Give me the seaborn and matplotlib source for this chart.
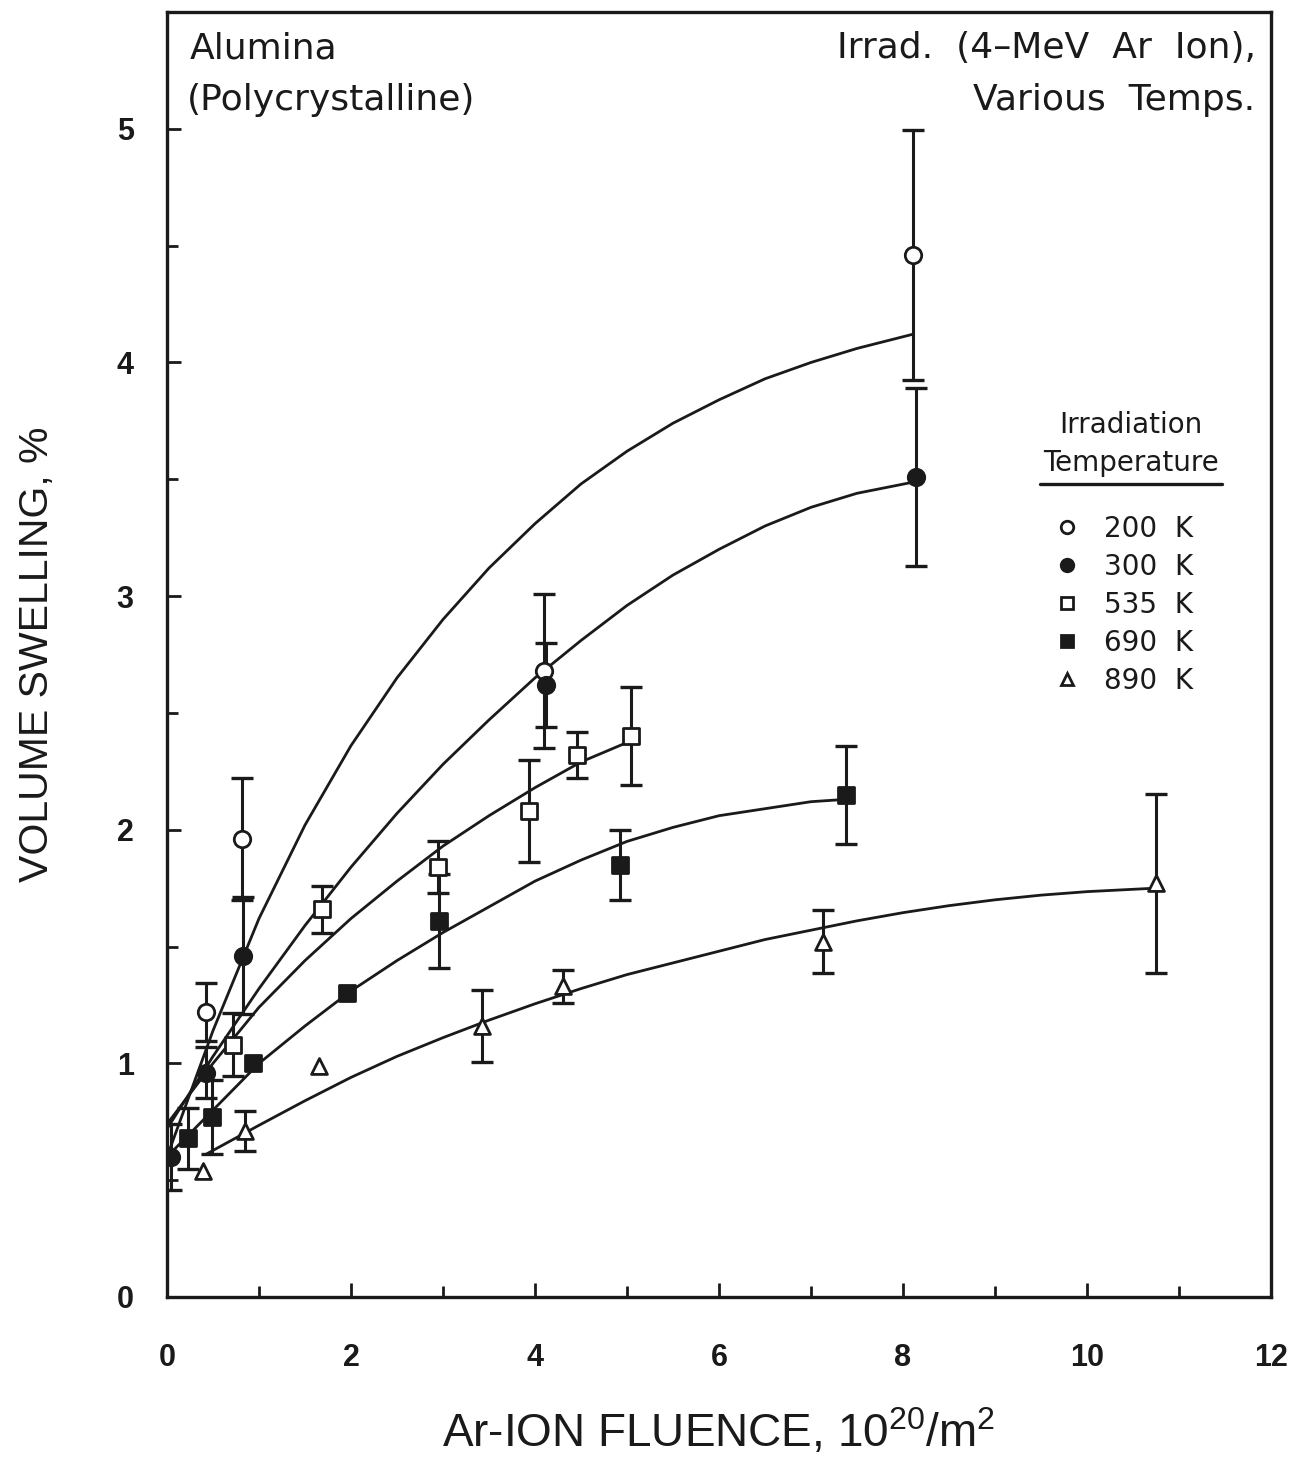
import matplotlib
matplotlib.use("Agg")
import matplotlib.pyplot as plt
import seaborn as sns
import numpy as np
import pandas as pd
from matplotlib.lines import Line2D

# ---------------- data ----------------
x200 = [0.42, 0.81, 4.10, 8.11]
y200 = [1.22, 1.96, 2.68, 4.46]
e200 = [0.125, 0.26, 0.33, 0.535]

x300 = [0.04, 0.42, 0.83, 4.12, 8.14]
y300 = [0.60, 0.96, 1.46, 2.62, 3.51]
e300 = [0.14, 0.11, 0.25, 0.18, 0.38]

x535 = [0.72, 1.68, 2.95, 3.93, 4.46, 5.04]
y535 = [1.08, 1.66, 1.84, 2.08, 2.32, 2.40]
e535 = [0.135, 0.10, 0.11, 0.22, 0.10, 0.21]

x690 = [0.23, 0.49, 0.93, 1.96, 2.96, 4.92, 7.38]
y690 = [0.68, 0.77, 1.00, 1.30, 1.61, 1.85, 2.15]
e690 = [0.13, 0.16, 0.0, 0.0, 0.20, 0.15, 0.21]

x890 = [0.39, 0.85, 1.65, 3.42, 4.30, 7.13, 10.75]
y890 = [0.54, 0.71, 0.99, 1.16, 1.33, 1.52, 1.77]
e890 = [0.0, 0.085, 0.0, 0.155, 0.07, 0.135, 0.385]

# fitted curves
cx200 = [0, 0.5, 1.0, 1.5, 2.0, 2.5, 3.0, 3.5, 4.0, 4.5, 5.0, 5.5, 6.0, 6.5, 7.0, 7.5, 8.1]
cy200 = [0.60, 1.14, 1.62, 2.02, 2.36, 2.65, 2.90, 3.12, 3.31, 3.48, 3.62, 3.74, 3.84, 3.93, 4.00, 4.06, 4.12]

cx300 = [0, 0.5, 1.0, 1.5, 2.0, 2.5, 3.0, 3.5, 4.0, 4.5, 5.0, 5.5, 6.0, 6.5, 7.0, 7.5, 8.14]
cy300 = [0.72, 1.03, 1.32, 1.59, 1.84, 2.07, 2.28, 2.47, 2.65, 2.81, 2.96, 3.09, 3.20, 3.30, 3.38, 3.44, 3.49]

cx535 = [0, 0.5, 1.0, 1.5, 2.0, 2.5, 3.0, 3.5, 4.0, 4.5, 5.04]
cy535 = [0.74, 1.00, 1.24, 1.44, 1.62, 1.78, 1.93, 2.06, 2.18, 2.29, 2.38]

cx690 = [0.05, 0.5, 1.0, 1.5, 2.0, 2.5, 3.0, 3.5, 4.0, 4.5, 5.0, 5.5, 6.0, 6.5, 7.0, 7.38]
cy690 = [0.62, 0.80, 1.00, 1.16, 1.31, 1.44, 1.56, 1.67, 1.78, 1.87, 1.95, 2.01, 2.06, 2.09, 2.12, 2.13]

cx890 = [0.42, 1.0, 1.5, 2.0, 2.5, 3.0, 3.5, 4.0, 4.5, 5.0, 5.5, 6.0, 6.5, 7.0, 7.5, 8.0, 8.5, 9.0, 9.5, 10.0, 10.75]
cy890 = [0.61, 0.735, 0.84, 0.94, 1.03, 1.11, 1.185, 1.255, 1.32, 1.38, 1.43, 1.48, 1.53, 1.57, 1.61, 1.645, 1.675, 1.70, 1.72, 1.735, 1.75]

labels = ["200  K", "300  K", "535  K", "690  K", "890  K"]
xticks = [0, 2, 4, 6, 8, 10, 12]
yticks = [0, 1, 2, 3, 4, 5]

# ---------------- style ----------------
sns.set_theme(style="ticks")
plt.rcParams['font.family'] = ['Liberation Sans', 'DejaVu Sans']
plt.rcParams['mathtext.fontset'] = 'custom'
plt.rcParams['mathtext.rm'] = 'Liberation Sans'
plt.rcParams['mathtext.it'] = 'Liberation Sans'
plt.rcParams['mathtext.bf'] = 'Liberation Sans'
wide = ['DejaVu Sans']

fig = plt.figure(figsize=(12.95, 14.59), dpi=100)
ax = fig.add_axes([167/1295, (1459-1297)/1459, (1271-167)/1295, (1297-12)/1459])

black = "#1a1a1a"
series = [
    (x200, y200, e200, cx200, cy200, 'o', 'white'),
    (x300, y300, e300, cx300, cy300, 'o', black),
    (x535, y535, e535, cx535, cy535, 's', 'white'),
    (x690, y690, e690, cx690, cy690, 's', black),
    (x890, y890, e890, cx890, cy890, '^', 'white'),
]

for xs, ys, es, cxs, cys, mk, fc in series:
    cdf = pd.DataFrame({"x": cxs, "y": cys})
    sns.lineplot(data=cdf, x="x", y="y", ax=ax, color=black, lw=2.0,
                 sort=False, estimator=None, legend=False, zorder=2)
    xs_e = [x for x, e in zip(xs, es) if e > 0]
    ys_e = [y for y, e in zip(ys, es) if e > 0]
    es_e = [e for e in es if e > 0]
    ax.errorbar(xs_e, ys_e, yerr=es_e, fmt='none', ecolor=black,
                elinewidth=2.2, capsize=8, capthick=2.4, zorder=3)
    df = pd.DataFrame({"x": xs, "y": ys})
    ms = 140 if mk != '^' else 130
    sns.scatterplot(data=df, x="x", y="y", ax=ax, marker=mk, s=ms,
                    facecolor=fc, edgecolor=black, linewidth=2.0, zorder=4,
                    legend=False)

ax.set_xlim(0, 12)
ax.set_ylim(0, 5.5)
ax.set_xticks(xticks)
ax.set_xticks(np.arange(1, 12, 2), minor=True)
ax.set_yticks(yticks)
ax.set_yticks(np.arange(0.5, 5.5, 1.0), minor=True)
ax.set_xticklabels([str(t) for t in xticks])
ax.set_yticklabels([str(t) for t in yticks])
ax.tick_params(axis='both', which='major', direction='in', length=10, width=2,
               colors=black, labelsize=22, top=False, right=False)
ax.tick_params(axis='both', which='minor', direction='in', length=8, width=2,
               colors=black, top=False, right=False)
ax.tick_params(axis='x', which='major', pad=33)
ax.tick_params(axis='y', which='major', pad=24)
for lab in ax.get_xticklabels() + ax.get_yticklabels():
    lab.set_fontweight('bold')
for sp in ax.spines.values():
    sp.set_visible(True)
    sp.set_linewidth(2.4)
    sp.set_color(black)

ax.set_xlabel(r"Ar-ION FLUENCE, 10$^{20}$/m$^{2}$", fontsize=33,
              labelpad=25, color=black)
ax.set_ylabel("VOLUME SWELLING, %", fontsize=29.5,
              labelpad=44, color=black)

# annotations
tkw = dict(transform=ax.transAxes, fontsize=26, color=black, va='baseline',
           family=wide)
ax.text(0.021, 0.964, "Alumina", ha='left', **tkw)
ax.text(0.018, 0.924, "(Polycrystalline)", ha='left', **tkw)
ax.text(0.986, 0.964, "Irrad.  (4\u2013MeV  Ar  Ion),", ha='right', **tkw)
ax.text(0.986, 0.924, "Various  Temps.", ha='right', **tkw)

# legend
lkw = dict(transform=ax.transAxes, fontsize=20, color=black, va='baseline',
           ha='center', family=wide)
ax.text(0.873, 0.672, "Irradiation", **lkw)
ax.text(0.873, 0.643, "Temperature", **lkw)
ax.add_line(Line2D([0.791, 0.956], [0.6325, 0.6325], transform=ax.transAxes,
                   color=black, lw=2.4))

handles = []
for (_, _, _, _, _, mk, fc), lab in zip(series, labels):
    handles.append(Line2D([], [], marker=mk, ls='none', markersize=9,
                          markerfacecolor=fc, markeredgecolor=black,
                          markeredgewidth=2.0, label=lab))
leg = ax.legend(handles=handles, loc='upper left', bbox_to_anchor=(0.803, 0.6085),
                frameon=False, prop={'family': 'DejaVu Sans', 'size': 20},
                handlelength=1.0, handletextpad=0.8,
                labelspacing=0.36, borderpad=0, borderaxespad=0)
for t in leg.get_texts():
    t.set_color(black)

fig.savefig("out.png", dpi=100, facecolor='white')
